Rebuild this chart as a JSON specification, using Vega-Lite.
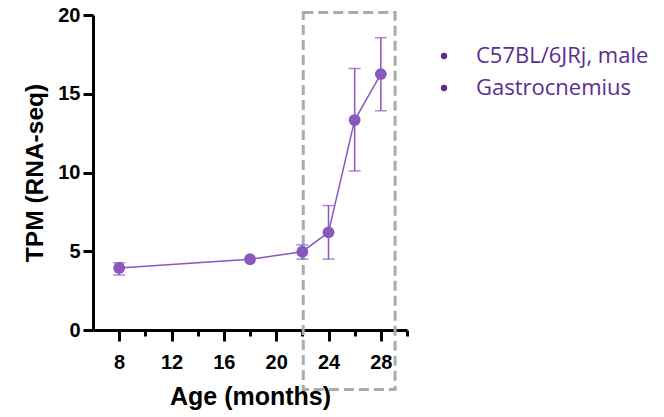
{
  "$schema": "https://vega.github.io/schema/vega-lite/v6.json",
  "autosize": "none",
  "width": 314,
  "height": 315,
  "padding": {"left": 93, "top": 15, "right": 257, "bottom": 87},
  "background": "white",
  "config": {"view": {"stroke": null}},
  "datasets": {
    "pts": [
      {"age": 8, "tpm": 3.94, "lo": 3.49, "hi": 4.27},
      {"age": 18, "tpm": 4.49, "lo": 4.49, "hi": 4.49},
      {"age": 22, "tpm": 4.97, "lo": 4.5, "hi": 5.4},
      {"age": 24, "tpm": 6.2, "lo": 4.5, "hi": 7.9},
      {"age": 26, "tpm": 13.33, "lo": 10.1, "hi": 16.6},
      {"age": 28, "tpm": 16.25, "lo": 13.92, "hi": 18.56}
    ],
    "box": [{"x1": 22.07, "x2": 29.09, "y1": 20.16, "y2": -3.77}],
    "leg": [{"item": "C57BL/6JRj, male"}, {"item": "Gastrocnemius"}]
  },
  "encoding": {
    "x": {
      "type": "quantitative",
      "scale": {"domain": [6, 30], "nice": false, "zero": false},
      "axis": {
        "title": "Age (months)",
        "values": [8, 10, 12, 14, 16, 18, 20, 22, 24, 26, 28, 30],
        "labelExpr": "datum.value % 4 == 0 && datum.value < 30 ? datum.label : ''",
        "grid": false,
        "domainColor": "black", "domainWidth": 3,
        "tickColor": "black", "tickWidth": 3,
        "tickSize": {"condition": {"test": "datum.value % 4 == 0", "value": 11}, "value": 6},
        "labelFont": "Liberation Sans", "labelFontWeight": "bold", "labelFontSize": 20, "labelColor": "black",
        "labelPadding": 11, "labelFlush": false,
        "titleFont": "Liberation Sans", "titleFontWeight": "bold", "titleFontSize": 25, "titleColor": "black",
        "titlePadding": 12
      }
    },
    "y": {
      "type": "quantitative",
      "scale": {"domain": [0, 20], "nice": false},
      "axis": {
        "title": "TPM (RNA-seq)",
        "values": [0, 5, 10, 15, 20],
        "grid": false,
        "domainColor": "black", "domainWidth": 3,
        "tickColor": "black", "tickWidth": 3, "tickSize": 10,
        "labelFont": "Liberation Sans", "labelFontWeight": "bold", "labelFontSize": 20, "labelColor": "black",
        "labelPadding": 3, "labelFlush": false,
        "titleFont": "Liberation Sans", "titleFontWeight": "bold", "titleFontSize": 24.5, "titleColor": "black",
        "titlePadding": 10
      }
    }
  },
  "layer": [
    {
      "data": {"name": "box"},
      "mark": {"type": "rect", "fill": null, "stroke": "#ababab", "strokeWidth": 3, "strokeDash": [10, 5], "clip": false},
      "encoding": {
        "x": {"field": "x1", "type": "quantitative"},
        "x2": {"field": "x2"},
        "y": {"field": "y1", "type": "quantitative"},
        "y2": {"field": "y2"}
      }
    },
    {
      "data": {"name": "pts"},
      "mark": {"type": "line", "color": "#8857c0", "strokeWidth": 1.5},
      "encoding": {
        "x": {"field": "age", "type": "quantitative"},
        "y": {"field": "tpm", "type": "quantitative"}
      }
    },
    {
      "data": {"name": "pts"},
      "mark": {"type": "rule", "color": "#8857c0", "strokeWidth": 1.5},
      "encoding": {
        "x": {"field": "age", "type": "quantitative"},
        "y": {"field": "lo", "type": "quantitative"},
        "y2": {"field": "hi"}
      }
    },
    {
      "data": {"name": "pts"},
      "mark": {"type": "tick", "orient": "horizontal", "color": "#8857c0", "size": 12, "thickness": 1.5},
      "encoding": {
        "x": {"field": "age", "type": "quantitative"},
        "y": {"field": "lo", "type": "quantitative"}
      }
    },
    {
      "data": {"name": "pts"},
      "mark": {"type": "tick", "orient": "horizontal", "color": "#8857c0", "size": 12, "thickness": 1.5},
      "encoding": {
        "x": {"field": "age", "type": "quantitative"},
        "y": {"field": "hi", "type": "quantitative"}
      }
    },
    {
      "data": {"name": "pts"},
      "mark": {"type": "point", "filled": true, "color": "#8857c0", "opacity": 1, "size": 140},
      "encoding": {
        "x": {"field": "age", "type": "quantitative"},
        "y": {"field": "tpm", "type": "quantitative"}
      }
    },
    {
      "data": {"name": "leg"},
      "mark": {"type": "point", "filled": true, "opacity": 0},
      "encoding": {
        "x": {"datum": 10},
        "y": {"datum": 10},
        "color": {
          "field": "item", "type": "nominal",
          "scale": {"domain": ["C57BL/6JRj, male", "Gastrocnemius"], "range": ["#5a2d91", "#5a2d91"]},
          "legend": {
            "title": null,
            "orient": "none",
            "legendX": 340,
            "legendY": 30,
            "symbolType": "circle",
            "symbolSize": 40,
            "symbolOpacity": 1,
            "symbolStrokeWidth": 0,
            "labelFont": "Open Sans",
            "labelFontSize": 22,
            "labelColor": "#5a2d91",
            "labelOffset": 21,
            "rowPadding": 10,
            "labelLimit": 400
          }
        }
      }
    }
  ]
}
